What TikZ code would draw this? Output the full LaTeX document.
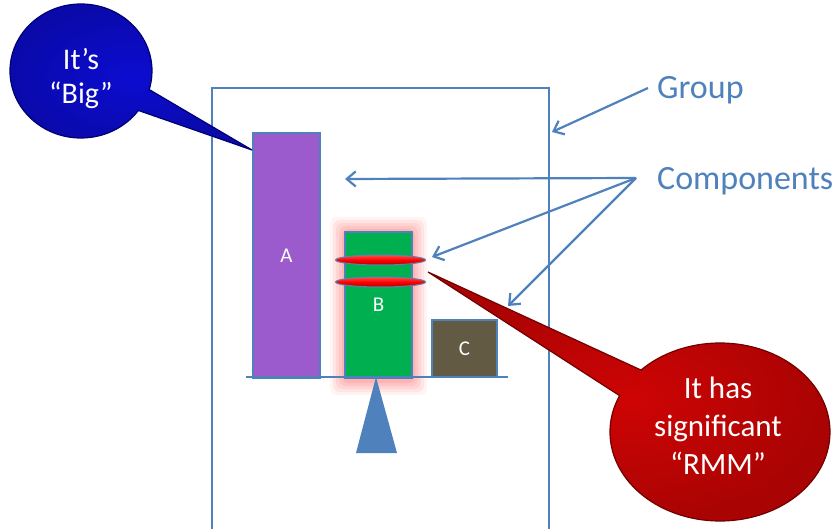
\documentclass[tikz,border=0pt]{standalone}
\usepackage{fontspec}
\setmainfont{Carlito}
\usetikzlibrary{arrows.meta,shapes.callouts,shapes.geometric}
\definecolor{steel}{RGB}{79,129,189}
\definecolor{barA}{RGB}{156,91,205}
\definecolor{barB}{RGB}{0,176,80}
\definecolor{barC}{RGB}{99,90,68}
\definecolor{deepblue}{RGB}{12,12,208}
\definecolor{deepred}{RGB}{206,4,4}
\tikzset{
  bar/.style={draw=steel, line width=1.6pt, text=white, font=\fontsize{21}{24}\selectfont, inner sep=0pt},
  pointer/.style={draw=steel, line width=2.2pt, -{Straight Barb[length=9pt,width=15pt,line width=2.2pt]}},
  tag/.style={text=steel, font=\fontsize{34}{38}\selectfont, anchor=west, inner sep=0pt},
  bubble/.style={ellipse callout, callout pointer arc=20, line width=1.2pt, inner sep=0pt},
  bubbletext/.style={align=center, text=white, inner sep=0pt},
  ring/.style={ellipse, draw=steel!70!gray, line width=1pt, minimum width=90pt, minimum height=10pt, inner sep=0pt,
    top color=red!70!white, bottom color=red!70!black, middle color=red},
}
\begin{document}
\begin{tikzpicture}[x=1pt,y=-1pt]
\useasboundingbox (0,0) rectangle (840,529);
\fill[white] (0,0) rectangle (840,529);

% group outline, open at the bottom of the frame
\coordinate (gBL) at (212,529);
\coordinate (gTL) at (212,88);
\coordinate (gTR) at (549,88);
\coordinate (gBR) at (549,529);
\draw[steel, line width=1.8pt] (gBL) -- (gTL) -- (gTR) -- (gBR);

% soft red glow around B
\foreach \m/\o in {15/0.08,12/0.10,9/0.12,6/0.14,3/0.16}{
  \fill[red!60!white, opacity=\o, rounded corners=7pt] (345-\m,232-\m) rectangle (412+\m,380+\m);
}

% components
\node[bar, fill=barA, minimum width=67pt, minimum height=245pt] (A) at (286.5,255.5) {A};
\node[bar, fill=barB, minimum width=67pt, minimum height=146pt] (B) at (378.5,305) {B};
\node[bar, fill=barC, minimum width=65pt, minimum height=57pt] (C) at (464.5,348.5) {C};

% base beam and fulcrum
\coordinate (beamL) at (246,377);
\coordinate (beamR) at (508,377);
\draw[steel, line width=2pt] (beamL) -- (beamR);
\coordinate (apex) at (376,377);
\coordinate (baseL) at (356,453);
\coordinate (baseR) at (397,453);
\fill[steel] (apex) -- (baseR) -- (baseL) -- cycle;

% rings on B
\node[ring] (ring1) at (380.5,260) {};
\node[ring] (ring2) at (380.5,282) {};

% labels
\node[tag] (grp) at (657,90) {Group};
\node[tag] (cmp) at (657,181) {Components};
\coordinate (gStart) at (648,88);
\coordinate (gEnd) at (552,132);
\draw[pointer] (gStart) -- (gEnd);
\coordinate (hub) at (636,178);
\coordinate (toA) at (345,179);
\coordinate (toB) at (432,257);
\coordinate (toC) at (508,306);
\draw[pointer] (hub) -- (toA);
\draw[pointer] (hub) -- (toB);
\draw[pointer] (hub) -- (toC);

% callouts
\coordinate (bigTip) at (252,150);
\node[bubble, draw=blue!45!black, inner color=deepblue, outer color=deepblue!82!black,
  minimum width=142pt, minimum height=134pt, callout absolute pointer={(bigTip)}] (big) at (81,71) {};
\node[bubbletext, font=\fontsize{30}{34}\selectfont] (bigText) at (81,79) {It’s\\“Big”};
\coordinate (rmmTip) at (428,272);
\node[bubble, draw=red!45!black, inner color=deepred, outer color=deepred!82!black,
  minimum width=220pt, minimum height=178pt, callout absolute pointer={(rmmTip)}] (rmm) at (720,432) {};
\node[bubbletext, font=\fontsize{31}{38}\selectfont] (rmmText) at (718,426) {It has\\significant\\“RMM”};
\end{tikzpicture}
\end{document}
